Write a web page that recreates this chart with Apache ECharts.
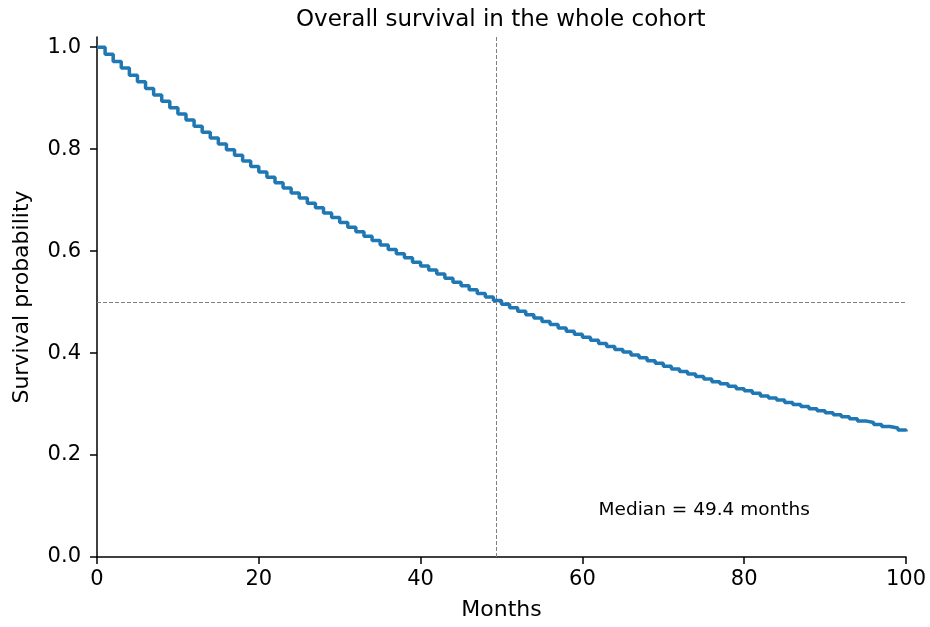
<!DOCTYPE html>
<html>
<head>
<meta charset="utf-8">
<script src="https://cdn.jsdelivr.net/npm/echarts@6/dist/echarts.min.js"></script>
<style>
html,body{margin:0;padding:0;background:#fff;}
#chart{width:930px;height:627px;}
</style>
</head>
<body>
<div id="chart"></div>
<script>
// Kaplan-Meier step values, one per month (0..100)
const months = [0,1,2,3,4,5,6,7,8,9,10,11,12,13,14,15,16,17,18,19,20,21,22,23,24,25,26,27,28,29,30,31,32,33,34,35,36,37,38,39,40,41,42,43,44,45,46,47,48,49,50,51,52,53,54,55,56,57,58,59,60,61,62,63,64,65,66,67,68,69,70,71,72,73,74,75,76,77,78,79,80,81,82,83,84,85,86,87,88,89,90,91,92,93,94,95,96,97,98,99,100];
const survival = [
1.000,0.986,0.972,0.959,0.945,0.932,0.919,0.906,0.894,0.881,
0.869,0.857,0.845,0.833,0.822,0.810,0.799,0.788,0.777,0.766,
0.755,0.745,0.734,0.724,0.714,0.704,0.694,0.685,0.675,0.666,
0.656,0.647,0.638,0.629,0.621,0.612,0.603,0.595,0.587,0.578,
0.571,0.563,0.555,0.547,0.539,0.532,0.524,0.517,0.510,0.503,
0.496,0.489,0.482,0.475,0.469,0.462,0.456,0.449,0.443,0.437,
0.431,0.425,0.419,0.413,0.407,0.402,0.396,0.391,0.385,0.380,
0.374,0.369,0.364,0.359,0.354,0.349,0.344,0.340,0.335,0.330,
0.326,0.321,0.316,0.312,0.308,0.303,0.299,0.295,0.291,0.287,
0.283,0.279,0.275,0.271,0.267,0.264,0.260,0.256,0.253,0.249,
0.246];
const medianMonths = 49.4;
const medianProb = 0.5;
const xTicks = [0,20,40,60,80,100];
const yTicks = [0,0.2,0.4,0.6,0.8,1.0];
const titleText = 'Overall survival in the whole cohort';
const xLabel = 'Months';
const yLabel = 'Survival probability';
const medianText = 'Median = 49.4 months';
const annotPos = [62, 0.092];

const FONT = 'DejaVu Sans';
const chart = echarts.init(document.getElementById('chart'), null, {renderer:'canvas'});
const axisCommon = {
  axisLine:{show:true, onZero:false, lineStyle:{color:'#000', width:1.5}},
  axisTick:{show:true, inside:false, length:7, lineStyle:{color:'#000', width:1.5}},
  splitLine:{show:false},
  axisLabel:{color:'#000', fontFamily:FONT, fontSize:21},
  nameTextStyle:{color:'#000', fontFamily:FONT, fontSize:22}
};
chart.setOption({
  animation:false,
  backgroundColor:'#fff',
  title:{text:titleText, left:296, top:9, padding:0,
    textStyle:{fontFamily:FONT, fontSize:23, fontWeight:'normal', color:'#000'}},
  grid:{left:97, right:24, top:37, bottom:70, containLabel:false},
  xAxis:Object.assign({}, axisCommon, {
    type:'value', min:0, max:100, interval:20,
    name:xLabel, nameLocation:'middle', nameGap:42,
    axisTick:Object.assign({}, axisCommon.axisTick, {customValues:xTicks}),
    axisLabel:Object.assign({}, axisCommon.axisLabel, {customValues:xTicks, margin:12})
  }),
  yAxis:Object.assign({}, axisCommon, {
    type:'value', min:0, max:1.02,
    name:yLabel, nameLocation:'middle', nameGap:64,
    axisTick:Object.assign({}, axisCommon.axisTick, {customValues:yTicks}),
    axisLabel:Object.assign({}, axisCommon.axisLabel, {customValues:yTicks, margin:16,
      formatter:v=>Number(v).toFixed(1)})
  }),
  series:[{
    type:'line', step:'end', showSymbol:false, symbol:'none',
    data:months.map((m,i)=>[m, survival[i]]),
    lineStyle:{color:'#1f77b4', width:3.5},
    z:3,
    markLine:{
      silent:true, symbol:'none', animation:false,
      label:{show:false},
      lineStyle:{color:'#808080', type:[4,2], width:1},
      data:[{yAxis:medianProb},{xAxis:medianMonths}],
      z:2
    },
    markPoint:{
      silent:true, symbol:'circle', symbolSize:0,
      data:[{coord:annotPos, value:medianText}],
      label:{show:true, position:'right', distance:0, formatter:medianText,
        color:'#000', fontFamily:FONT, fontSize:18.5}
    }
  }]
});
</script>
</body>
</html>
